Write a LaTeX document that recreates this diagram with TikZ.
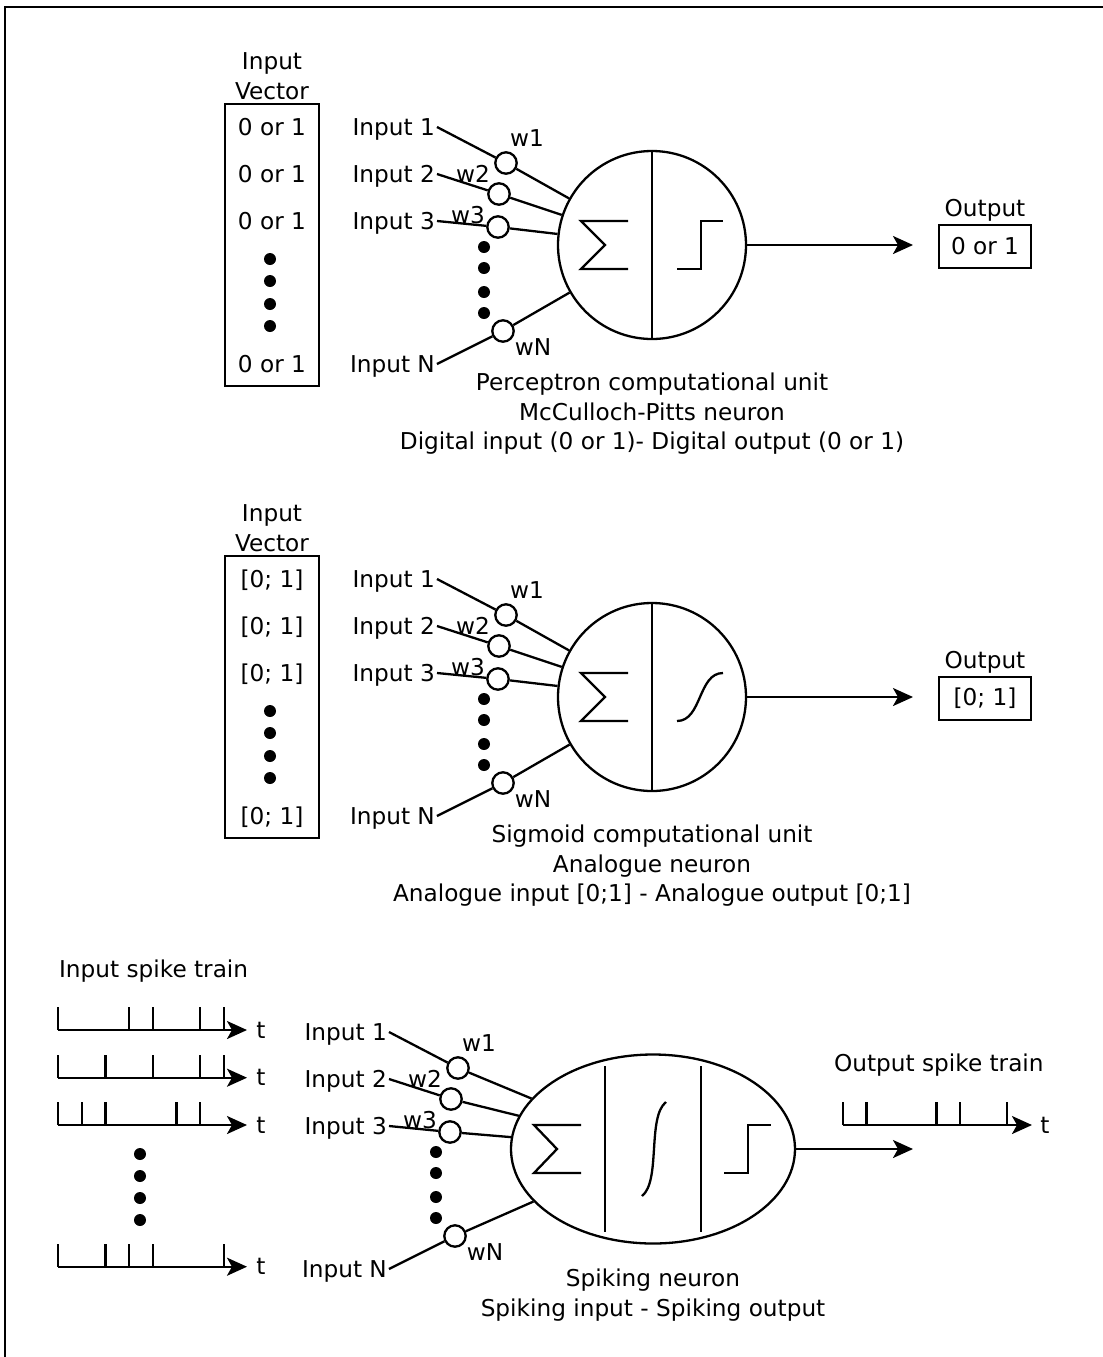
\documentclass[tikz,border=0pt]{standalone}
\usepackage{fontspec}
\setmainfont{DejaVu Sans}
\usetikzlibrary{arrows.meta,shapes.geometric}

\begin{document}
\begin{tikzpicture}[x=0.5pt,y=-0.5pt,line width=1.15pt,
  font=\fontsize{11.6}{14.75}\selectfont,
  lbl/.style={inner sep=0.5pt,text depth=0pt},
  wgt/.style={draw,circle,minimum size=10.7pt,inner sep=0},
  dotc/.style={fill,circle,minimum size=6pt,inner sep=0},
  unit/.style={draw,circle,minimum size=94pt,inner sep=0},
  vecbox/.style={draw,minimum width=47pt,minimum height=141pt,inner sep=0},
  outbox/.style={draw,minimum width=46pt,minimum height=21.5pt,inner sep=0},
  arr/.style={-{Stealth[length=10pt,width=9pt,inset=2.5pt]}}]
  \useasboundingbox (0,0) rectangle (1103,1357);
  \draw (5,1357) -- (5,7) -- (1103,7);

  \node[unit] (unit-a) at (652,245) {};
  \node[unit] (unit-b) at (652,697) {};
  \node[draw,ellipse,minimum width=142pt,minimum height=94.5pt,inner sep=0] (unit-c) at (653,1149) {};

  \foreach \p/\dy/\val in {a/0/0 or 1,b/452/{[0; 1]}}{
    \begin{scope}[shift={(0,\dy)}]
      \node[align=center] (title-\p) at (272,76) {Input\\Vector};
      \node[vecbox] (vec-\p) at (272,245) {};
      \foreach \e/\y in {1/127,2/174,3/221,N/364}
        \node[lbl] (val\e-\p) at (272,\y) {\val};
      \foreach \y in {259,281,304,326}
        \node[dotc] (vd\y-\p) at (270,\y) {};
      \node[lbl] (otit-\p) at (985,208) {Output};
      \node[outbox] (out-\p) at (985,246.5) {\val};
      \coordinate (oend-\p) at (913,245);
    \end{scope}
    \draw (unit-\p.north) -- (unit-\p.south);
    \draw[arr] (unit-\p) -- (oend-\p);
  }

  \foreach \p/\sx/\sy in {a/0/0,b/0/452,c/-48/905}{
    \begin{scope}[shift={(\sx,\sy)}]
      \node[lbl,anchor=east] (in1-\p) at (437,127) {Input 1};
      \node[lbl,anchor=east] (in2-\p) at (437,174) {Input 2};
      \node[lbl,anchor=east] (in3-\p) at (437,221) {Input 3};
      \node[lbl,anchor=east] (inN-\p) at (437,364) {Input N};
      \node[wgt] (w1-\p) at (506,163) {};
      \node[wgt] (w2-\p) at (499,194) {};
      \node[wgt] (w3-\p) at (498,227) {};
      \node[wgt] (wN-\p) at (503,331) {};
      \node[lbl] (lw1-\p) at (527,138) {w1};
      \node[lbl] (lw2-\p) at (473,174) {w2};
      \node[lbl] (lw3-\p) at (468,215) {w3};
      \node[lbl] (lwN-\p) at (533,347) {wN};
      \foreach \y in {247,268,292,313}
        \node[dotc] (wd\y-\p) at (484,\y) {};
      \foreach \i in {1,2,3,N}{
        \draw (in\i-\p.east) -- (w\i-\p);
        \draw (w\i-\p) -- (unit-\p);
      }
    \end{scope}
  }

  \begin{scope}[shift={(unit-a.center)}]
    \draw (-24,-24) -- (-71,-24) -- (-47,0) -- (-71,24) -- (-24,24);
    \draw (25,24) -- (49,24) -- (49,-24) -- (71,-24);
  \end{scope}
  \node[align=center] (cap-a) at (652,414) {Perceptron computational unit\\McCulloch-Pitts neuron\\Digital input (0 or 1)- Digital output (0 or 1)};

  \begin{scope}[shift={(unit-b.center)}]
    \draw (-24,-24) -- (-71,-24) -- (-47,0) -- (-71,24) -- (-24,24);
    \draw (25,24) .. controls (50,24) and (46,-24) .. (71,-24);
  \end{scope}
  \node[align=center] (cap-b) at (652,866) {Sigmoid computational unit\\Analogue neuron\\Analogue input [0;1] - Analogue output [0;1]};

  \begin{scope}[shift={(unit-c.center)}]
    \draw (-48,-83) -- (-48,83);
    \draw (48,-83) -- (48,83);
    \draw (-72,-24) -- (-119,-24) -- (-96,0) -- (-119,24) -- (-72,24);
    \draw (-11,47) .. controls (8,32) and (-6,-32) .. (13,-47);
    \draw (71,24) -- (95,24) -- (95,-24) -- (118,-24);
  \end{scope}
  \node[align=center] (cap-c) at (653,1295) {Spiking neuron\\Spiking input - Spiking output};

  \node[lbl,anchor=west] (itrain) at (57,969) {Input spike train};
  \foreach \y/\ks [count=\r] in {1030/{0,3,4,6,7},1077.7/{0,2,4,6,7},1125/{0,1,2,5,6},1266.7/{0,2,3,4,7}}{
    \foreach \k in \ks
      \draw (58+23.7*\k,\y) -- ++(0,-23);
    \draw[arr] (58,\y) -- (247,\y);
    \node[lbl] (tin\r) at (261,\y) {t};
  }
  \foreach \y in {1154,1176,1198,1220}
    \node[dotc] (sd\y) at (140,\y) {};

  \node[lbl,anchor=west] (otrain) at (832,1063) {Output spike train};
  \foreach \k in {0,1,4,5,7}
    \draw (843+23.4*\k,1125) -- ++(0,-23);
  \draw[arr] (843,1125) -- (1032,1125);
  \node[lbl] (tout) at (1045,1125) {t};
  \coordinate (oend-c) at (913,1149);
  \draw[arr] (unit-c) -- (oend-c);
\end{tikzpicture}
\end{document}
